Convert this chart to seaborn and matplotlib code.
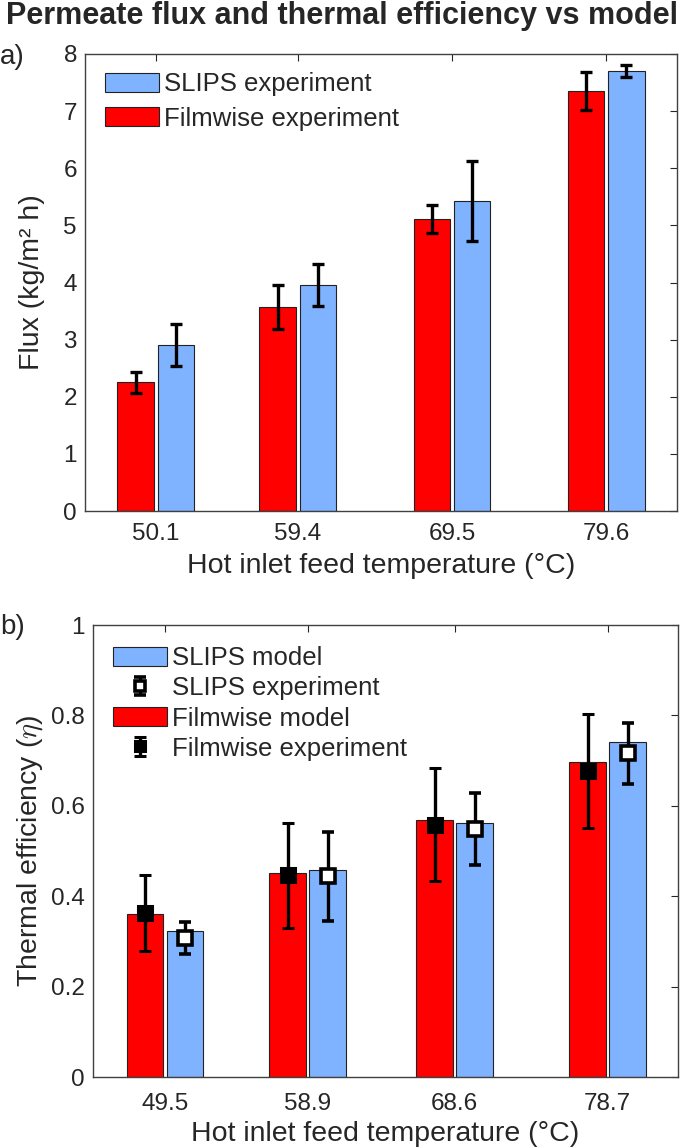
import numpy as np
import pandas as pd
import seaborn as sns
import matplotlib.pyplot as plt
from matplotlib.patches import Patch
from matplotlib.container import ErrorbarContainer
from matplotlib.legend_handler import HandlerErrorbar
from matplotlib.ticker import FuncFormatter

# panel a) permeate flux
temps_a = [50.1, 59.4, 69.5, 79.6]
flux_filmwise = [2.25, 3.57, 5.11, 7.35]
flux_filmwise_err = [0.18, 0.38, 0.25, 0.33]
flux_slips = [2.90, 3.96, 5.43, 7.70]
flux_slips_err = [0.37, 0.37, 0.70, 0.11]

# panel b) thermal efficiency
temps_b = [49.5, 58.9, 68.6, 78.7]
eff_filmwise_model = [0.361, 0.451, 0.569, 0.696]
eff_slips_model = [0.324, 0.459, 0.563, 0.741]
eff_filmwise_exp = [0.363, 0.446, 0.558, 0.677]
eff_filmwise_err = [0.084, 0.116, 0.125, 0.126]
eff_slips_exp = [0.308, 0.444, 0.548, 0.716]
eff_slips_err = [0.035, 0.099, 0.080, 0.067]

RED = "#FF0000"
BLUE = "#80B3FF"
DARK = "#262626"

sns.set_theme(style="white")
plt.rcParams["font.family"] = ["Liberation Sans", "DejaVu Sans"]
plt.rcParams["mathtext.fontset"] = "cm"

fig = plt.figure(figsize=(6.85, 11.47), dpi=100)
ax1 = fig.add_axes([85 / 685, 1 - 511 / 1147, 592 / 685, 457 / 1147])
ax2 = fig.add_axes([93 / 685, 1 - 1077 / 1147, 585 / 685, 452 / 1147])


def grouped_bars(ax, temps, left, right, width, gap):
    df = pd.DataFrame({
        "temp": temps * 2,
        "val": left + right,
        "series": ["Filmwise"] * len(temps) + ["SLIPS"] * len(temps),
    })
    sns.barplot(data=df, x="temp", y="val", hue="series",
                hue_order=["Filmwise", "SLIPS"],
                palette={"Filmwise": RED, "SLIPS": BLUE},
                native_scale=True, width=width, gap=gap, dodge=True,
                saturation=1, edgecolor="#222222", linewidth=0.8,
                legend=False, errorbar=None, ax=ax)
    bars = sorted(ax.patches, key=lambda p: p.get_x())
    return bars[0::2], bars[1::2]


def style_axes(ax, temps, xlim, ylim, pad_x):
    ax.set_xlim(*xlim)
    ax.set_ylim(*ylim)
    ax.set_xticks(temps)
    ax.set_xticklabels([f"{t:.1f}" for t in temps])
    ax.tick_params(direction="in", top=True, right=True, length=5, width=0.8,
                   color=DARK, labelcolor=DARK, labelsize=17.5)
    ax.tick_params(axis="x", pad=pad_x)
    ax.tick_params(axis="y", pad=5.8)
    for s in ax.spines.values():
        s.set_color("#404040")
        s.set_linewidth(1.0)


# ---- panel a
red_a, blue_a = grouped_bars(ax1, temps_a, flux_filmwise, flux_slips, 0.568, 0.095)
for bars, err in ((red_a, flux_filmwise_err), (blue_a, flux_slips_err)):
    xs = [b.get_x() + b.get_width() / 2 for b in bars]
    ys = [b.get_height() for b in bars]
    ax1.errorbar(xs, ys, yerr=err, fmt="none", ecolor="black",
                 elinewidth=2.4, capsize=4, capthick=2.4, zorder=5)

style_axes(ax1, temps_a, (45.46, 84.24), (0, 8), 8.5)
ax1.set_yticks(range(0, 9))
ax1.set_xlabel("Hot inlet feed temperature (°C)", fontsize=20.5, color=DARK)
ax1.set_ylabel("Flux (kg/m² h)", fontsize=20.5, color=DARK)
ax1.xaxis.set_label_coords(0.5, -0.091)
ax1.yaxis.set_label_coords(-0.068, 0.5)
ax1.legend(handles=[Patch(fc=BLUE, ec="#222222", lw=0.8),
                    Patch(fc=RED, ec="#222222", lw=0.8)],
           labels=["SLIPS experiment", "Filmwise experiment"],
           loc="upper left", bbox_to_anchor=(0.034, 0.96), frameon=False,
           borderpad=0, borderaxespad=0, handlelength=2.1, handleheight=0.78,
           handletextpad=0.2, labelspacing=0.4, fontsize=18.5)

# ---- panel b
red_b, blue_b = grouped_bars(ax2, temps_b, eff_filmwise_model, eff_slips_model, 0.562, 0.09)
xs_r = [b.get_x() + b.get_width() / 2 for b in red_b]
xs_b = [b.get_x() + b.get_width() / 2 for b in blue_b]
h_film = ax2.errorbar(xs_r, eff_filmwise_exp, yerr=eff_filmwise_err, fmt="s",
                      color="black", mfc="black", mec="black", ms=10, mew=2.2,
                      elinewidth=2.4, capsize=4, capthick=2.4, zorder=5)
h_slips = ax2.errorbar(xs_b, eff_slips_exp, yerr=eff_slips_err, fmt="s",
                       color="black", mfc="white", mec="black", ms=10, mew=2.6,
                       elinewidth=2.4, capsize=4, capthick=2.4, zorder=5)

style_axes(ax2, temps_b, (44.73, 83.35), (0, 1), 11.5)
ax2.set_yticks(np.arange(0, 1.01, 0.2))
ax2.yaxis.set_major_formatter(FuncFormatter(lambda v, p: f"{v:g}"))
ax2.set_xlabel("Hot inlet feed temperature (°C)", fontsize=20.5, color=DARK)
ax2.set_ylabel(r"Thermal efficiency ($\eta$)", fontsize=20.5, color=DARK)
ax2.xaxis.set_label_coords(0.5, -0.098)
ax2.yaxis.set_label_coords(-0.082, 0.5)
ax2.legend(handles=[Patch(fc=BLUE, ec="#222222", lw=0.8), h_slips,
                    Patch(fc=RED, ec="#222222", lw=0.8), h_film],
           labels=["SLIPS model", "SLIPS experiment", "Filmwise model",
                   "Filmwise experiment"],
           handler_map={ErrorbarContainer: HandlerErrorbar(yerr_size=0.36)},
           markerscale=0.65,
           loc="upper left", bbox_to_anchor=(0.034, 0.953), frameon=False,
           borderpad=0, borderaxespad=0, handlelength=2.1, handleheight=0.78,
           handletextpad=0.2, labelspacing=0.24, fontsize=18.5)

fig.text(0.5, 1 - 24 / 1147, "Permeate flux and thermal efficiency vs model",
         ha="center", va="baseline", fontsize=22, fontweight="bold")
fig.text(0.0, 1 - 57 / 1147, "a)", ha="left", va="center", fontsize=20)
fig.text(0.0, 1 - 627 / 1147, "b)", ha="left", va="center", fontsize=20)

fig.savefig("out.png", dpi=100)
